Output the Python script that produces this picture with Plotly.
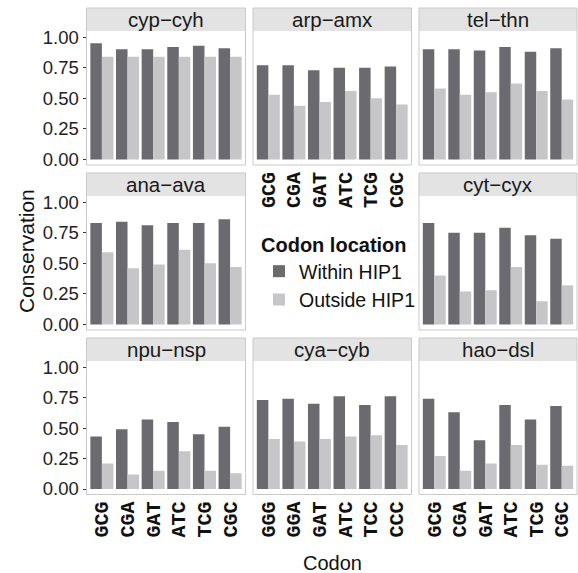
import plotly.graph_objects as go

# Codon conservation per gene pair, within vs outside the HIP1 motif
panels = ["cyp\u2212cyh", "arp\u2212amx", "tel\u2212thn",
          "ana\u2212ava", "cyt\u2212cyx",
          "npu\u2212nsp", "cya\u2212cyb", "hao\u2212dsl"]

codons_std = ["GCG", "CGA", "GAT", "ATC", "TCG", "CGC"]
codons_cya = ["GGG", "GGA", "GAT", "ATC", "TCC", "CCC"]
panel_codons = [codons_std, codons_std, codons_std,
                codons_std, codons_std,
                codons_std, codons_cya, codons_std]

within = [
    [0.95, 0.90, 0.90, 0.92, 0.93, 0.91],
    [0.77, 0.77, 0.73, 0.75, 0.75, 0.76],
    [0.90, 0.90, 0.89, 0.92, 0.88, 0.91],
    [0.83, 0.84, 0.81, 0.83, 0.83, 0.86],
    [0.83, 0.75, 0.75, 0.79, 0.73, 0.70],
    [0.43, 0.49, 0.57, 0.55, 0.45, 0.51],
    [0.73, 0.74, 0.70, 0.76, 0.69, 0.76],
    [0.74, 0.63, 0.40, 0.69, 0.57, 0.68],
]
outside = [
    [0.84, 0.84, 0.84, 0.84, 0.84, 0.84],
    [0.53, 0.44, 0.47, 0.56, 0.50, 0.45],
    [0.58, 0.53, 0.55, 0.62, 0.56, 0.49],
    [0.59, 0.46, 0.49, 0.61, 0.50, 0.47],
    [0.40, 0.27, 0.28, 0.47, 0.19, 0.32],
    [0.21, 0.12, 0.15, 0.31, 0.15, 0.13],
    [0.41, 0.39, 0.41, 0.43, 0.44, 0.36],
    [0.27, 0.15, 0.21, 0.36, 0.20, 0.19],
]

y_ticks = [0, 0.25, 0.5, 0.75, 1.0]
y_tick_labels = ["0.00", "0.25", "0.50", "0.75", "1.00"]

series_names = ["Within HIP1", "Outside HIP1"]
series_colors = ["#6b6b6f", "#c6c6c8"]

# facet grid placement (row, col); the centre cell holds the legend
grid = [(0, 0), (0, 1), (0, 2), (1, 0), (1, 2), (2, 0), (2, 1), (2, 2)]
show_x = {1, 5, 6, 7}

W, H = 578, 573
col_px = [(86.5, 245.5), (253, 411.5), (419, 577)]
row_px = [(8, 31, 165), (173, 196, 330), (338, 361, 494.5)]

FONT = "Liberation Sans"
MONO = "Liberation Mono"

fig = go.Figure()
layout = {}
shapes = []
annotations = []

for k, name in enumerate(panels):
    idx = k + 1
    r, c = grid[k]
    x0, x1 = col_px[c]
    st, pt, pb = row_px[r]
    xa = "x" if idx == 1 else f"x{idx}"
    ya = "y" if idx == 1 else f"y{idx}"
    for s, vals in enumerate([within[k], outside[k]]):
        fig.add_trace(go.Bar(
            x=panel_codons[k], y=vals, name=series_names[s],
            marker=dict(color=series_colors[s], line=dict(width=0)),
            xaxis=xa, yaxis=ya, legendgroup=series_names[s],
            showlegend=(k == 0), offsetgroup=str(s),
        ))
    xkey = "xaxis" if idx == 1 else f"xaxis{idx}"
    ykey = "yaxis" if idx == 1 else f"yaxis{idx}"
    layout[xkey] = dict(
        domain=[x0 / W, x1 / W], anchor=ya, type="category",
        range=[-0.6, 5.6], showgrid=False, zeroline=False, showline=False,
        showticklabels=(k in show_x), tickangle=-90, ticks="",
        tickmode="array", tickvals=panel_codons[k],
        ticktext=[f"<b>{cd}</b>" for cd in panel_codons[k]],
        tickfont=dict(family=MONO, size=20, color="#111111"),
        ticklabelstandoff=2, automargin=False, fixedrange=True,
    )
    layout[ykey] = dict(
        domain=[1 - pb / H, 1 - pt / H], anchor=xa,
        range=[-0.045, 1.05], showgrid=False, zeroline=False, showline=False,
        tickvals=y_ticks, ticktext=y_tick_labels,
        showticklabels=(c == 0), ticks="outside" if c == 0 else "",
        ticklen=3, tickwidth=1, tickcolor="#333333",
        tickfont=dict(family=FONT, size=18.5, color="#222222"),
        automargin=False, fixedrange=True,
    )
    # strip header and panel frame
    shapes.append(dict(type="rect", xref="paper", yref="paper",
                       x0=x0 / W, x1=x1 / W, y0=1 - pt / H, y1=1 - st / H,
                       fillcolor="#e3e3e3", line=dict(width=0), layer="below"))
    shapes.append(dict(type="rect", xref="paper", yref="paper",
                       x0=x0 / W, x1=x1 / W, y0=1 - pb / H, y1=1 - st / H,
                       fillcolor="rgba(0,0,0,0)",
                       line=dict(color="#c9c9c9", width=1), layer="above"))
    annotations.append(dict(text=name, xref="paper", yref="paper",
                            x=(x0 + x1) / 2 / W, y=1 - (st + pt) / 2 / H,
                            showarrow=False, xanchor="center", yanchor="middle",
                            font=dict(family=FONT, size=20.5, color="#1a1a1a")))

annotations.append(dict(text="Conservation", xref="paper", yref="paper",
                        x=26 / W, y=1 - 251 / H, textangle=-90, showarrow=False,
                        xanchor="center", yanchor="middle",
                        font=dict(family=FONT, size=21, color="#111111")))
annotations.append(dict(text="Codon", xref="paper", yref="paper",
                        x=332 / W, y=1 - 563 / H, showarrow=False,
                        xanchor="center", yanchor="middle",
                        font=dict(family=FONT, size=20, color="#111111")))

fig.update_layout(
    **layout,
    width=W, height=H,
    margin=dict(l=0, r=0, t=0, b=0),
    paper_bgcolor="white", plot_bgcolor="white",
    barmode="group", bargap=0.1, bargroupgap=0,
    shapes=shapes, annotations=annotations,
    legend=dict(
        x=259 / W, y=1 - 226 / H, xanchor="left", yanchor="top",
        title=dict(text="<b>Codon location</b>",
                   font=dict(family=FONT, size=20, color="#111111")),
        font=dict(family=FONT, size=19.5, color="#111111"),
        bgcolor="rgba(0,0,0,0)", tracegroupgap=0, itemwidth=30,
    ),
    font=dict(family=FONT),
)

fig.write_html("out.html")
